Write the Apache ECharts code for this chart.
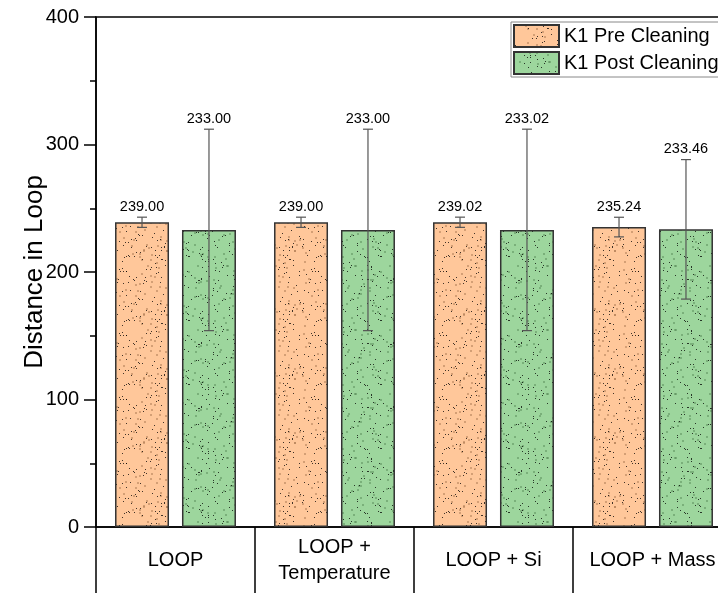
<!DOCTYPE html>
<html>
<head>
<meta charset="utf-8">
<title>Distance in Loop</title>
<script src="https://cdn.jsdelivr.net/npm/echarts@6/dist/echarts.min.js"></script>
<style>
  html, body { margin: 0; padding: 0; background: #fff; }
  #chart { width: 718px; height: 593px; }
</style>
</head>
<body>
<div id="chart"></div>
<script>
// Categories and measured values
const categories = ['LOOP', 'LOOP +\nTemperature', 'LOOP + Si', 'LOOP + Mass'];
const seriesNames = ['K1 Pre Cleaning', 'K1 Post Cleaning'];
const preValues = [239.00, 239.00, 239.02, 235.24];
const postValues = [233.00, 233.00, 233.02, 233.46];
const preErrors = [4, 4, 4, 7.7];
const postErrors = [79, 79, 79, 54.7];
const yTicks = { min: 0, max: 400, interval: 100 };

const FONT = "'Liberation Sans', Arial, sans-serif";
const BAR_W = 54;
const BAR_GAP = 0.24;

// Stippled fill, deterministic speckle pattern drawn on a small tile
function stipple(base, speck, seed) {
  const c = document.createElement('canvas');
  c.width = c.height = 64;
  const g = c.getContext('2d');
  g.fillStyle = base;
  g.fillRect(0, 0, 64, 64);
  let s = seed >>> 0;
  const rnd = () => { s = (Math.imul(s, 1664525) + 1013904223) >>> 0; return s / 4294967296; };
  g.fillStyle = speck;
  for (let i = 0; i < 45; i++) g.fillRect(Math.floor(rnd() * 63), Math.floor(rnd() * 63), 2, 2);
  g.fillStyle = 'rgba(0,0,0,0.75)';
  for (let i = 0; i < 85; i++) g.fillRect(Math.floor(rnd() * 64), Math.floor(rnd() * 64), 1, 1);
  return c;
}

const orangeFill = { image: stipple('#FFC79A', 'rgba(170,120,80,0.5)', 7), repeat: 'repeat' };
const greenFill = { image: stipple('#9DD69D', 'rgba(80,130,80,0.45)', 19), repeat: 'repeat' };

// Error bar + value label, offset to sit on its bar within the group
function errorSeries(values, errors, side) {
  const offset = side * BAR_W * (1 + BAR_GAP) / 2;
  return {
    type: 'custom',
    z: 10,
    silent: true,
    data: values.map((v, i) => [i, v, errors[i]]),
    encode: { x: 0, y: 1 },
    renderItem(params, api) {
      const i = api.value(0), v = api.value(1), e = api.value(2);
      const hi = api.coord([i, v + e]);
      const lo = api.coord([i, v - e]);
      const x = hi[0] + offset;
      const cap = 5;
      const ls = { stroke: '#555', lineWidth: 1.2 };
      return {
        type: 'group',
        children: [
          { type: 'line', shape: { x1: x, y1: hi[1], x2: x, y2: lo[1] }, style: ls },
          { type: 'line', shape: { x1: x - cap, y1: hi[1], x2: x + cap, y2: hi[1] }, style: ls },
          { type: 'line', shape: { x1: x - cap, y1: lo[1], x2: x + cap, y2: lo[1] }, style: ls },
          {
            type: 'text',
            style: {
              text: v.toFixed(2), x: x, y: hi[1] - 3,
              align: 'center', verticalAlign: 'bottom',
              fontSize: 14.5, fontFamily: FONT, fill: '#000'
            }
          }
        ]
      };
    }
  };
}

const chart = echarts.init(document.getElementById('chart'), null, { renderer: 'canvas' });
chart.setOption({
  animation: false,
  backgroundColor: '#fff',
  textStyle: { fontFamily: FONT },
  grid: {
    left: 96, top: 17, width: 636, height: 510,
    outerBoundsMode: 'none', containLabel: false,
    show: true, borderColor: '#000', borderWidth: 1.5, backgroundColor: 'transparent'
  },
  legend: {
    data: seriesNames,
    orient: 'vertical',
    left: 511, top: 22,
    icon: 'rect',
    itemWidth: 45, itemHeight: 22, itemGap: 3,
    padding: [2, 6, 2, 2],
    borderColor: '#888', borderWidth: 1,
    backgroundColor: '#fff',
    textStyle: { fontSize: 20, color: '#000', fontFamily: FONT }
  },
  xAxis: {
    type: 'category',
    data: categories,
    axisLine: { lineStyle: { color: '#000', width: 1.5 } },
    axisTick: { show: true, length: 66, lineStyle: { color: '#000', width: 1.5 } },
    axisLabel: {
      fontSize: 20, color: '#000', fontFamily: FONT,
      margin: 33, verticalAlign: 'middle', lineHeight: 26, interval: 0,
      hideOverlap: false
    },
    splitLine: { show: false }
  },
  yAxis: {
    type: 'value',
    min: yTicks.min, max: yTicks.max, interval: yTicks.interval,
    name: 'Distance in Loop',
    nameLocation: 'middle',
    nameGap: 48,
    nameMoveOverlap: false,
    nameTextStyle: { fontSize: 26, color: '#000', fontFamily: FONT },
    axisLine: { show: true, lineStyle: { color: '#000', width: 1.5 } },
    axisTick: { show: true, length: 12, lineStyle: { color: '#000', width: 1.5 } },
    minorTick: { show: true, splitNumber: 2, length: 6, lineStyle: { color: '#000', width: 1.5 } },
    axisLabel: { fontSize: 20, color: '#000', fontFamily: FONT, margin: 17 },
    splitLine: { show: false }
  },
  series: [
    {
      name: seriesNames[0], type: 'bar', data: preValues,
      barWidth: BAR_W, barGap: (BAR_GAP * 100) + '%',
      itemStyle: { color: orangeFill, borderColor: '#333', borderWidth: 1.5 }
    },
    {
      name: seriesNames[1], type: 'bar', data: postValues,
      barWidth: BAR_W, barGap: (BAR_GAP * 100) + '%',
      itemStyle: { color: greenFill, borderColor: '#333', borderWidth: 1.5 }
    },
    errorSeries(preValues, preErrors, -1),
    errorSeries(postValues, postErrors, 1)
  ]
});
</script>
</body>
</html>
